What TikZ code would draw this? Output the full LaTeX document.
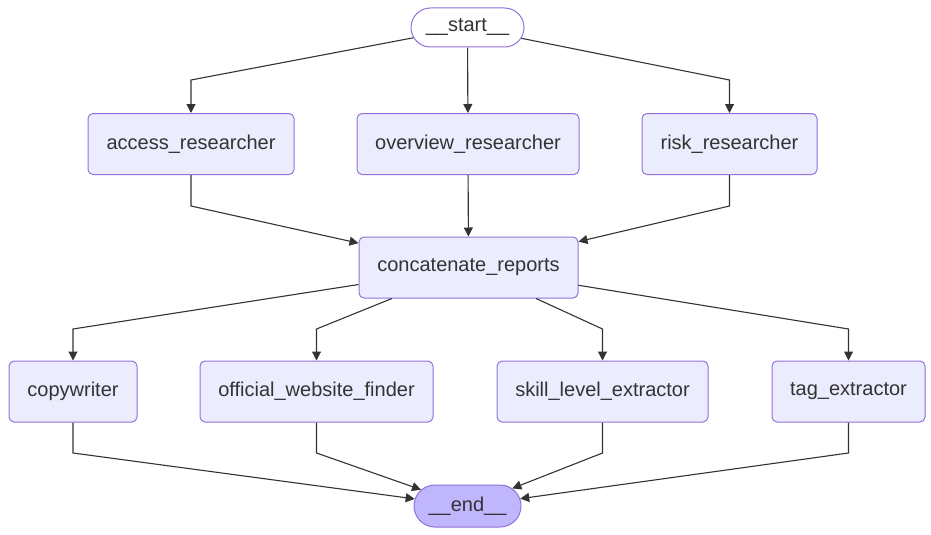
\documentclass[tikz,border=0pt]{standalone}
\usepackage{fontspec}
\setmainfont{Liberation Sans}
\usepackage{tikz}
\usetikzlibrary{arrows.meta,shapes.misc}

\begin{document}
\begin{tikzpicture}[x=1pt,y=-1pt]

		\definecolor{nodefill}{HTML}{ECECFF}
		\definecolor{nodeline}{HTML}{9370DB}
		\definecolor{endfill}{HTML}{BFB6FC}
		\definecolor{darkgrey}{HTML}{333333}

		\useasboundingbox (0,0) rectangle (931,535);

		\tikzstyle{edge} = [draw=darkgrey,line width=1.1pt,-{Triangle[length=9pt,width=9pt]}]

		\tikzset{vertex/.style = {shape=rectangle,rounded corners=5pt,draw=nodeline,line width=1pt,fill=nodefill,inner sep=0pt,minimum height=61pt,text=darkgrey,font=\fontsize{20}{24}\selectfont}}
		\node[vertex,minimum width=206pt] (access) at  (191,144) {access\_researcher};
		\node[vertex,minimum width=222pt] (overview) at  (468,144) {overview\_researcher};
		\node[vertex,minimum width=175pt] (risk) at  (729.5,144) {risk\_researcher};
		\node[vertex,minimum width=219pt] (concat) at  (468.5,267.5) {concatenate\_reports};
		\node[vertex,minimum width=128pt] (copy) at  (73,391.5) {copywriter};
		\node[vertex,minimum width=233pt] (official) at  (316.5,391.5) {official\_website\_finder};
		\node[vertex,minimum width=211pt] (skill) at  (602.5,391.5) {skill\_level\_extractor};
		\node[vertex,minimum width=153pt] (tag) at  (848.5,391.5) {tag\_extractor};

		\tikzset{vertex/.style = {shape=rounded rectangle,draw=nodeline,line width=1pt,inner sep=0pt,text=darkgrey,font=\fontsize{20}{24}\selectfont}}
		\node[vertex,fill=white,minimum width=113pt,minimum height=39pt] (start) at  (467.5,27.5) {\_\_start\_\_};
		\node[vertex,fill=endfill,minimum width=107pt,minimum height=42pt] (stop) at  (467.5,506) {\_\_end\_\_};

		\draw[edge] (start) -- (191,80) -- (access);
		\draw[edge] (start) -- (overview);
		\draw[edge] (start) -- (729.5,80) -- (risk);
		\draw[edge] (access) -- (191,206) -- (concat);
		\draw[edge] (overview) -- (concat);
		\draw[edge] (risk) -- (729.5,206) -- (concat);
		\draw[edge] (concat) -- (73,329) -- (copy);
		\draw[edge] (concat) -- (316.5,329) -- (official);
		\draw[edge] (concat) -- (602.5,329) -- (skill);
		\draw[edge] (concat) -- (848.5,329) -- (tag);
		\draw[edge] (copy) -- (73,453) -- (stop);
		\draw[edge] (official) -- (316.5,453) -- (stop);
		\draw[edge] (skill) -- (602.5,453) -- (stop);
		\draw[edge] (tag) -- (848.5,453) -- (stop);
		\end{tikzpicture}
\end{document}
